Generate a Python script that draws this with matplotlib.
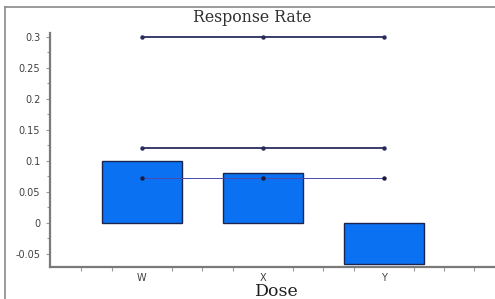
import matplotlib
matplotlib.use('Agg')
import matplotlib.pyplot as plt
from matplotlib.ticker import FixedLocator, MultipleLocator
from matplotlib.lines import Line2D

# data
doses = ['W', 'X', 'Y']
response = [0.10, 0.08, -0.067]
upper_line = [0.30, 0.30, 0.30]
mid_line = [0.12, 0.12, 0.12]
low_line = [0.072, 0.072, 0.072]

W, H = 495, 299
fig = plt.figure(figsize=(W / 100, H / 100), dpi=100)

# grey frame: only the top and left edges show
top_y = 1 - 7 / H
left_x = 5 / W
fig.add_artist(Line2D([left_x, 1], [top_y, top_y], transform=fig.transFigure,
                      color='#8a8a8a', linewidth=1.2))
fig.add_artist(Line2D([left_x, left_x], [0, top_y], transform=fig.transFigure,
                      color='#8a8a8a', linewidth=1.2))

ax = fig.add_axes([50 / W, (H - 267) / H, (W - 50) / W, (267 - 33) / H])
x = list(range(len(doses)))
ax.bar(x, response, width=0.66, color='#0a72f2', edgecolor='#1c2450', linewidth=1.0, zorder=2)

ax.plot(x, upper_line, color='#2a2d5c', linewidth=1.3, marker='o', markersize=2.2, zorder=3)
ax.plot(x, mid_line, color='#2a2d5c', linewidth=1.3, marker='o', markersize=2.2, zorder=3)
ax.plot(x, low_line, color='#4a4ab0', linewidth=0.7, marker='o', markersize=2.2,
        markerfacecolor='#1c1c40', markeredgecolor='#1c1c40', zorder=3)

ax.set_xlim(-0.76, 2.92)
ax.set_ylim(-0.0715, 0.306)

for s in ['top', 'right']:
    ax.spines[s].set_visible(False)
for s in ['left', 'bottom']:
    ax.spines[s].set_color('#7a7a7a')
    ax.spines[s].set_linewidth(1.6)

ax.set_xticks(x)
ax.set_xticklabels(doses)
ax.xaxis.set_minor_locator(FixedLocator([v * 0.25 for v in range(-2, 12) if v % 4 != 0]))
ax.tick_params(axis='x', which='major', length=0, pad=4, labelsize=7, labelcolor='#404040')
ax.tick_params(axis='x', which='minor', length=3, color='#9a9a9a', width=0.8)

ax.set_yticks([-0.05, 0, 0.05, 0.1, 0.15, 0.2, 0.25, 0.3])
ax.set_yticklabels(['-0.05', '0', '0.05', '0.1', '0.15', '0.2', '0.25', '0.3'])
ax.yaxis.set_minor_locator(MultipleLocator(0.025))
ax.tick_params(axis='y', which='major', length=3, pad=4, labelsize=7, labelcolor='#404040',
               color='#9a9a9a', width=0.8)
ax.tick_params(axis='y', which='minor', length=2, color='#9a9a9a', width=0.8)

fig.text(252 / W, 1 - 17 / H, 'Response Rate', ha='center', va='center',
         family='DejaVu Serif', fontsize=11.3, color='#303030')
fig.text(277 / W, 1 - 292 / H, 'Dose', ha='center', va='center',
         family='DejaVu Serif', fontsize=12.5, color='#202020')

fig.savefig('out.png', dpi=100)
